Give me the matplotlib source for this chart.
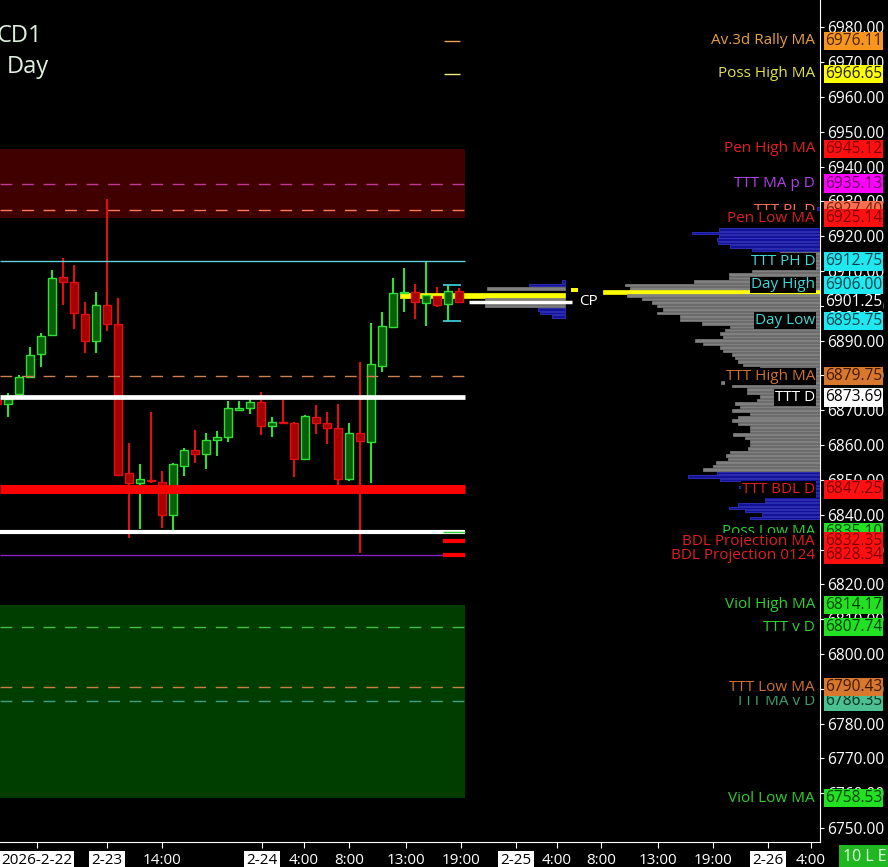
"""Intraday chart CD1 / Day: hourly candles, reference levels and volume profiles."""
import matplotlib

matplotlib.use("Agg")
import matplotlib.pyplot as plt  # noqa: E402
import matplotlib.transforms as mtransforms  # noqa: E402
import numpy as np  # noqa: E402

plt.rcParams["font.family"] = ["Open Sans", "DejaVu Sans"]

# --- hourly candles (first bar is partly cut off at the left edge) ---
OPEN = [6873.0, 6871.8, 6874.7, 6879.6, 6886.2, 6891.6, 6908.2, 6906.9, 6897.7, 6889.9,
        6900.2, 6894.8, 6851.9, 6849.0, 6850.0, 6849.5, 6839.9, 6854.0, 6858.6, 6857.4,
        6861.5, 6862.2, 6870.1, 6870.6, 6872.3, 6865.5, 6866.6, 6866.4, 6855.9, 6868.2,
        6866.4, 6864.8, 6850.2, 6863.4, 6861.0, 6882.7, 6893.8, 6903.6, 6904.1, 6900.7,
        6902.8, 6900.5, 6904.4]
HIGH = [6874.5, 6874.9, 6880.1, 6888.3, 6892.1, 6910.3, 6913.7, 6911.7, 6901.2, 6904.1,
        6930.7, 6902.2, 6860.7, 6854.6, 6869.6, 6852.6, 6854.9, 6859.1, 6864.3, 6863.6,
        6864.0, 6872.7, 6872.7, 6873.4, 6875.3, 6868.0, 6873.0, 6866.5, 6868.6, 6871.5,
        6869.4, 6871.8, 6866.4, 6884.0, 6895.2, 6898.3, 6907.9, 6910.8, 6906.3, 6913.0,
        6905.5, 6906.0, 6905.0]
LOW = [6870.5, 6868.2, 6874.4, 6879.2, 6882.4, 6891.3, 6900.2, 6893.3, 6886.5, 6886.5,
       6892.9, 6851.1, 6833.2, 6835.8, 6849.2, 6836.1, 6835.6, 6851.1, 6854.9, 6853.0,
       6856.9, 6861.0, 6869.9, 6868.9, 6862.9, 6862.2, 6866.0, 6850.7, 6855.7, 6863.2,
       6860.3, 6846.0, 6849.8, 6828.9, 6849.2, 6881.1, 6893.8, 6898.3, 6896.2, 6894.2,
       6899.6, 6895.75, 6900.8]
CLOSE = [6871.8, 6873.2, 6879.6, 6885.9, 6891.3, 6907.9, 6906.8, 6898.0, 6889.9, 6900.2,
         6894.8, 6851.4, 6849.0, 6850.3, 6849.7, 6839.9, 6854.6, 6858.6, 6857.4, 6861.5,
         6862.2, 6870.6, 6870.6, 6872.3, 6865.5, 6866.7, 6866.3, 6855.9, 6868.4, 6866.4,
         6864.8, 6850.2, 6863.4, 6861.2, 6883.3, 6894.2, 6903.6, 6904.1, 6901.2, 6903.1,
         6900.2, 6904.4, 6901.25]

# --- time axis labels (bar index) ---
XTICK_POS = [2.6, 9.0, 14.0, 23.1, 26.9, 31.0, 36.2, 41.2, 46.2, 49.9, 53.9, 59.1, 64.1, 69.1, 73.0]
XTICK_LABELS = ["2026-2-22", "2-23", "14:00", "2-24", "4:00", "8:00", "13:00", "19:00",
                "2-25", "4:00", "8:00", "13:00", "19:00", "2-26", "4:00"]

# --- reference levels (drawing order = stacking order of the tags) ---
LEVEL_NAMES = ["Av.3d Rally MA", "Poss High MA", "Pen High MA", "TTT MA p D", "TTT PL D",
               "Pen Low MA", "TTT PH D", "Day High", "Day Low", "TTT High MA", "TTT D",
               "TTT BDL D", "Poss Low MA", "BDL Projection MA", "BDL Projection 0124",
               "Viol High MA", "TTT v D", "TTT MA v D", "TTT Low MA", "Viol Low MA"]
LEVEL_VALUES = [6976.11, 6966.65, 6945.12, 6935.13, 6927.40, 6925.14, 6912.75, 6906.00,
                6895.75, 6879.75, 6873.69, 6847.25, 6835.10, 6832.35, 6828.34, 6814.17,
                6807.74, 6786.35, 6790.43, 6758.53]
CURRENT_PRICE = 6901.25

# --- volume profiles (price row -> volume, kind b=blue g=gray y=POC) ---
VP1_PRICES = [6907, 6906, 6905, 6903, 6902, 6901, 6900, 6899, 6898, 6897]
VP1_VOL = [3, 36, 78, 165, 80, 80, 80, 27, 25, 13]
VP1_KIND = ["b", "b", "g", "y", "g", "g", "g", "b", "b", "b"]

VP2_PRICES = list(range(6928, 6838, -1))
VP2_VOL = [3, 0, 0, 0, 0, 0, 101, 128, 101, 103, 102, 90, 68,
           40, 45, 50, 55, 68, 68, 91, 91, 126, 195, 190, 217, 193, 178, 168, 163, 157,
           163, 140, 140, 118, 90, 95, 100, 97, 125, 117, 100, 97, 88, 85, 82, 77, 60,
           60, 60, 60, 99, 88, 73, 73, 60, 63, 85, 80, 88, 70, 82, 88, 82, 70, 70, 87,
           75, 70, 70, 72, 90, 94, 92, 104, 107, 117,
           103, 132, 100, 77, 81, 40, 40, 55, 55, 82, 91, 75, 58, 70]
VP2_KIND = ["b", "g", "g", "g", "g", "g"] + ["b"] * 7 + ["g"] * 11 + ["y"] + ["g"] * 51 + ["b"] * 14

# --- styles ---
BG = "black"
TAG_STYLE = {  # label colour, box colour, box text colour
    "Av.3d Rally MA": ("#e8a040", "#f5961e", "#4a2000"),
    "Poss High MA": ("#e2e24a", "#ffff00", "#202000"),
    "Pen High MA": ("#e02020", "#ff1010", "#7a0000"),
    "TTT MA p D": ("#b040e8", "#ff00ff", "#600060"),
    "TTT PL D": ("#ff7050", "#ff7050", "#702010"),
    "Pen Low MA": ("#d82020", "#ff1010", "#7a0000"),
    "TTT PH D": ("#40d8d8", "#20e8f0", "#004048"),
    "Day High": ("#40d8d8", "#20e8f0", "#004048"),
    "Day Low": ("#40d8d8", "#20e8f0", "#004048"),
    "TTT High MA": ("#d07030", "#d8782c", "#401800"),
    "TTT D": ("#ffffff", "#ffffff", "#000000"),
    "TTT BDL D": ("#e02020", "#ff1010", "#7a0000"),
    "Poss Low MA": ("#30d030", "#22e022", "#004000"),
    "BDL Projection MA": ("#e02020", "#ff1010", "#7a0000"),
    "BDL Projection 0124": ("#e02020", "#ff1010", "#7a0000"),
    "Viol High MA": ("#30d030", "#22e022", "#004000"),
    "TTT v D": ("#30d030", "#22e022", "#004000"),
    "TTT MA v D": ("#40a070", "#4cc090", "#003020"),
    "TTT Low MA": ("#d07030", "#d8782c", "#401800"),
    "Viol Low MA": ("#30d030", "#22e022", "#004000"),
}
KIND_STYLE = {"b": ("#12129a", "#3a3ad8"), "g": ("#808080", "#808080"), "y": ("#ffff00", "#ffff00")}

W, H = 888, 867
X0 = -8 / 11          # left edge in bar units (11 px per bar)
X1 = 812 / 11         # right edge (price scale)
LVL_END = 41.5        # level lines stop at the last bar
VOL_SCALE = 1 / 11    # volume units -> bar units


def lv(name):
    return LEVEL_VALUES[LEVEL_NAMES.index(name)]


fig = plt.figure(figsize=(W / 100, H / 100), dpi=100, facecolor=BG)
ax = fig.add_axes([0, 25 / H, 820 / W, 842 / H])
ax.set_facecolor(BG)
ax.set_xlim(X0, X1)
ax.set_ylim(6745.98, 6987.87)

# zones
ax.fill_between([X0, LVL_END], lv("Pen Low MA"), lv("Pen High MA"), color="#400000", lw=0, zorder=1)
ax.fill_between([X0, LVL_END], lv("Viol Low MA"), lv("Viol High MA"), color="#003e00", lw=0, zorder=1)

dash = (0, (8.5, 7))
for name, col in [("TTT MA p D", "#c0389a"), ("TTT PL D", "#ff7a5a"), ("TTT v D", "#40c040"),
                  ("TTT Low MA", "#c88040"), ("TTT MA v D", "#40a080"), ("TTT High MA", "#d08050")]:
    ax.hlines(lv(name), X0, LVL_END, colors=col, lw=1, linestyles=dash, zorder=4)

# candles
x = np.arange(len(OPEN)) - 1
o, h, l, c = map(np.array, (OPEN, HIGH, LOW, CLOSE))
up = c >= o
ax.vlines(x, l, h, colors=np.where(up, "#30e030", "#e01010"), lw=1.5, zorder=2)
ax.bar(x, np.maximum(np.abs(c - o), 0.15), bottom=np.minimum(o, c), width=0.7,
       color=np.where(up, "#0a600a", "#a80000"), edgecolor=np.where(up, "#30e030", "#e01010"),
       lw=1, zorder=3)

# level lines
ax.hlines(lv("TTT PH D"), X0, LVL_END, colors="#60d0e0", lw=1, zorder=4)
ax.hlines(lv("TTT D"), X0, LVL_END, colors="white", lw=3.4, zorder=4)
ax.hlines(lv("TTT BDL D"), X0, LVL_END, colors="#ff0000", lw=6.5, zorder=4)
ax.hlines(lv("Poss Low MA"), X0, LVL_END, colors="white", lw=3, zorder=4)
ax.hlines(lv("BDL Projection 0124"), X0, LVL_END, colors="#8a20c0", lw=1, zorder=4)
ax.hlines([lv("Day High"), lv("Day Low")], 39.5, 41.2, colors="#40d8e8", lw=1.2, zorder=4)
ax.hlines(lv("Av.3d Rally MA"), 39.6, 41.1, colors="#f0a050", lw=1, zorder=4)
ax.hlines(lv("Poss High MA"), 39.6, 41.1, colors="#f0f080", lw=1, zorder=4)
ax.hlines(lv("Poss Low MA"), 39.5, LVL_END, colors="#30d030", lw=1, zorder=5)
ax.hlines([lv("BDL Projection MA"), lv("BDL Projection 0124")], 39.5, LVL_END,
          colors="#ff0000", lw=3, zorder=5)


# volume profiles
def profile(prices, vols, kinds, anchor, z):
    v = np.array(vols) * VOL_SCALE
    keep = v > 0
    kinds = np.array(kinds)[keep]
    fc = [KIND_STYLE[k][0] for k in kinds]
    ec = [KIND_STYLE[k][1] for k in kinds]
    hh = np.where(kinds == "y", 1.35, 0.72)
    ax.barh(np.array(prices)[keep], v[keep], left=anchor - v[keep], height=hh,
            color=fc, edgecolor=ec, lw=0.5, zorder=z)


profile(VP1_PRICES, VP1_VOL, VP1_KIND, (565 - 8) / 11, 2.5)
profile(VP2_PRICES, VP2_VOL, VP2_KIND, X1, 5)
ax.barh(6904.5, 0.6, left=51.2, height=1.2, color="#ffff00", lw=0, zorder=5)
ax.hlines(CURRENT_PRICE, 41.9, 51.3, colors="white", lw=2.5, zorder=6)
ax.text(51.9, CURRENT_PRICE, "CP", color="white", fontsize=11, va="center", ha="left", zorder=6)

# axes styling
for side in ("left", "top"):
    ax.spines[side].set_visible(False)
for side in ("right", "bottom"):
    ax.spines[side].set_color("white")
ax.yaxis.tick_right()
ax.set_yticks(np.arange(6750, 6981, 10))
ax.set_yticklabels([f"{v:.2f}" for v in np.arange(6750, 6981, 10)])
ax.tick_params(axis="y", colors="white", labelsize=11.2, length=3, pad=2)
ax.set_xticks(XTICK_POS)
ax.set_xticklabels(XTICK_LABELS)
ax.tick_params(axis="x", colors="white", labelsize=11, length=4, pad=4)
for lab in ax.get_xticklabels():
    if "-" in lab.get_text():
        lab.set_color("black")
        lab.set_bbox(dict(boxstyle="square,pad=0.15", fc="white", ec="none"))

# tags on the price scale and labels
trans = mtransforms.blended_transform_factory(fig.transFigure, ax.transData)
fig.text(825 / W, CURRENT_PRICE, f"{CURRENT_PRICE:.2f}", transform=trans, color="white",
         fontsize=11.2, va="center", ha="left",
         bbox=dict(boxstyle="square,pad=0.08", fc="black", ec="none"))
for name, val in zip(LEVEL_NAMES, LEVEL_VALUES):
    tc, bc, btc = TAG_STYLE[name]
    fig.text(815 / W, val, name, transform=trans, color=tc, fontsize=11, va="center", ha="right",
             bbox=dict(boxstyle="square,pad=0.05", fc="black", ec="none"))
    fig.text(825 / W, val, f"{val:.2f}", transform=trans, color=btc, fontsize=11.2,
             va="center", ha="left", bbox=dict(boxstyle="square,pad=0.07", fc=bc, ec="none"))

fig.text(-3 / W, 1 - 36 / H, "CD1", color="#e0f0e0", fontsize=17, va="center", ha="left")
fig.text(7 / W, 1 - 67 / H, "Day", color="#e0f0e0", fontsize=17, va="center", ha="left")
fig.text(843 / W, 1 - 857 / H, "10 L E", color="#e8ffe8", fontsize=11.5, va="center", ha="left",
         bbox=dict(boxstyle="square,pad=0.25", fc="#20b820", ec="none"))

fig.savefig("out.png", dpi=100, facecolor=BG)
